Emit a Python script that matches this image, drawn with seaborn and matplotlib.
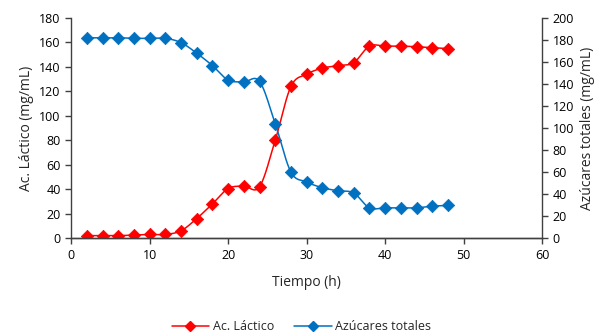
import numpy as np
import seaborn as sns
import matplotlib.pyplot as plt
from matplotlib.lines import Line2D

# Data
tiempo = [2, 4, 6, 8, 10, 12, 14, 16, 18, 20, 22, 24, 26, 28, 30, 32, 34, 36, 38, 40, 42, 44, 46, 48]
lactico = [2, 2, 2, 2.5, 3, 3, 6, 16, 28, 40.5, 42.5, 42, 80, 124, 134, 139, 141, 143.5, 157, 157, 157, 156.5, 155.7, 155]
azucares = [182, 182, 182, 181.5, 181.5, 181.5, 177.6, 168, 156.7, 143.6, 142, 142.4, 104, 60, 51, 45.8, 43, 41, 27.5, 27.5, 27.5, 27.5, 29, 29.7]

RED = '#FF0000'
BLUE = '#0070C0'


def smooth(x, y, n=20):
    # Catmull-Rom curve through the points, like Excel's smoothed lines
    x = np.asarray(x, float)
    y = np.asarray(y, float)
    px = np.concatenate([[x[0]], x, [x[-1]]])
    py = np.concatenate([[y[0]], y, [y[-1]]])
    xs, ys = [], []
    t = np.linspace(0, 1, n)
    for i in range(1, len(px) - 2):
        for p, out in ((px, xs), (py, ys)):
            p0, p1, p2, p3 = p[i - 1], p[i], p[i + 1], p[i + 2]
            out.extend(0.5 * ((2 * p1) + (-p0 + p2) * t + (2 * p0 - 5 * p1 + 4 * p2 - p3) * t ** 2
                              + (-p0 + 3 * p1 - 3 * p2 + p3) * t ** 3))
    return xs, ys


sns.set_style('ticks')
plt.rcParams['font.family'] = ['Open Sans', 'DejaVu Sans']
plt.rcParams['font.size'] = 9

fig, ax = plt.subplots(figsize=(6.03, 3.33), dpi=100)
fig.subplots_adjust(left=0.118, right=0.899, top=0.946, bottom=0.285)
ax2 = ax.twinx()

sx, sy = smooth(tiempo, lactico)
ax.plot(sx, sy, color=RED, lw=1.1)
sns.scatterplot(x=tiempo, y=lactico, ax=ax, marker='D', s=40, color=RED, edgecolor=RED, linewidth=0.5, zorder=3)

sx, sy = smooth(tiempo, azucares)
ax2.plot(sx, sy, color=BLUE, lw=1.1)
sns.scatterplot(x=tiempo, y=azucares, ax=ax2, marker='D', s=40, color=BLUE, edgecolor=BLUE, linewidth=0.5, zorder=3)

ax.set_xlim(0, 60)
ax.set_ylim(0, 180)
ax2.set_ylim(0, 200)
ax.set_xticks(range(0, 61, 10))
ax.set_yticks(range(0, 181, 20))
ax2.set_yticks(range(0, 201, 20))

ax.set_xlabel('Tiempo (h)', fontsize=10, labelpad=10)
ax.set_ylabel('Ac. Láctico (mg/mL)', fontsize=10, labelpad=4)
ax2.set_ylabel('Azúcares totales (mg/mL)', fontsize=10, labelpad=4)

for a in (ax, ax2):
    a.spines['top'].set_visible(False)
    for s in a.spines.values():
        s.set_color('#404040')
        s.set_linewidth(1.0)
    a.tick_params(colors='#404040', labelcolor='black', length=4, width=1.0, labelsize=9)
ax2.spines['left'].set_visible(False)
ax.spines['right'].set_visible(False)

handles = [
    Line2D([0], [0], color=RED, marker='D', markersize=5, lw=1.1),
    Line2D([0], [0], color=BLUE, marker='D', markersize=5, lw=1.1),
]
fig.legend(handles, ['Ac. Láctico', 'Azúcares totales'], loc='lower center',
           bbox_to_anchor=(0.5, -0.035), ncol=2, frameon=False, fontsize=9,
           handlelength=3, columnspacing=1.6, handletextpad=0.3)

plt.savefig('out.png', dpi=100)
